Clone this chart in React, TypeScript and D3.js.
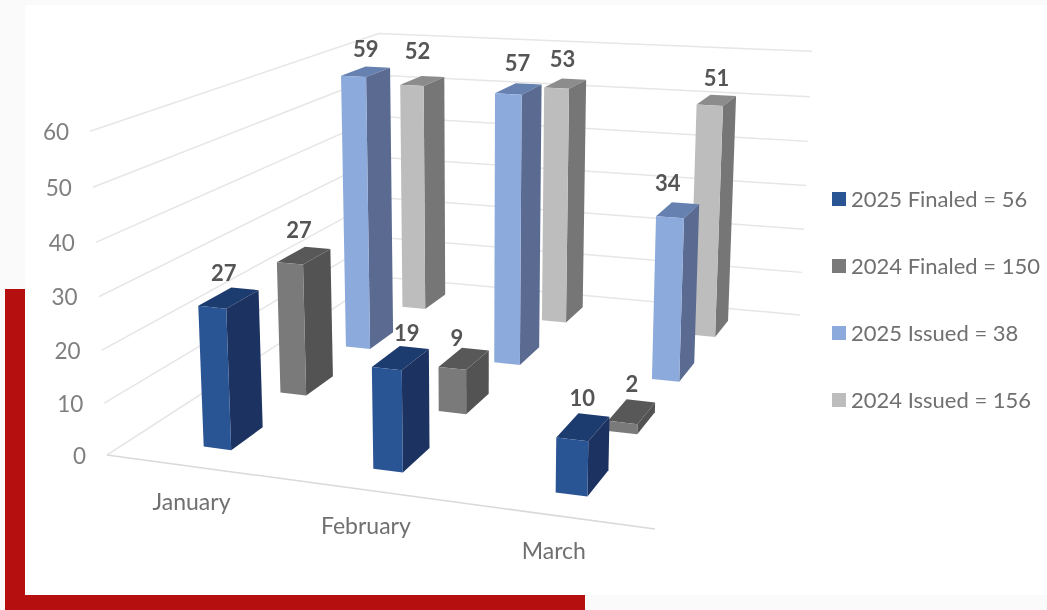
import React from "react";
import * as d3 from "d3";

const categories = ["January", "February", "March"];
const seriesNames = ["2025 Finaled", "2024 Finaled", "2025 Issued", "2024 Issued"];
const finaled2025 = [27, 19, 10];
const finaled2024 = [27, 9, 2];
const issued2025 = [59, 57, 34];
const issued2024 = [52, 53, 51];
const seriesValues = [finaled2025, finaled2024, issued2025, issued2024];
const legendLabels = ["2025 Finaled = 56", "2024 Finaled = 150", "2025 Issued = 38", "2024 Issued = 156"];
const valueTicks = [0, 10, 20, 30, 40, 50, 60];
const frontColors = ["#2B5494", "#7A7A7A", "#8CAADC", "#BDBDBD"];
const sideColors = ["#1C3260", "#525252", "#5A6B90", "#767676"];
const topColors = ["#1F3A6E", "#595959", "#6680B0", "#8C8C8C"];

const W = 1047, H = 610;
const FONT = "Lato, 'Open Sans', sans-serif";

// Perspective camera: floor quad corners and vertical vanishing point
const [x0, y0] = [107, 455], [x1, y1] = [655, 529], [x2, y2] = [800, 315], [x3, y3] = [382, 277];
const dx1 = x1 - x2, dx2 = x3 - x2, sx = x0 - x1 + x2 - x3;
const dy1 = y1 - y2, dy2 = y3 - y2, sy = y0 - y1 + y2 - y3;
const den = dx1 * dy2 - dx2 * dy1;
const g = (sx * dy2 - dx2 * sy) / den, h = (dx1 * sy - sx * dy1) / den;
const a = x1 - x0 + g * x1, b = x3 - x0 + h * x3, d = y1 - y0 + g * y1, e = y3 - y0 + h * y3;
const r = -0.0443, p = 474 * r, q = 7440 * r;

const project = (u: number, v: number, w: number): [number, number] => {
  const k = g * u + h * v + 1 + r * w;
  return [(a * u + b * v + x0 + p * w) / k, (d * u + e * v + y0 + q * w) / k];
};

const uScale = d3.scaleBand<string>().domain(categories).range([0.005, 0.998]).paddingInner(0.833).paddingOuter(0.4165);
const vScale = d3.scaleBand<string>().domain(seriesNames).range([0, 1]).paddingInner(0.6).paddingOuter(0.3);
const wScale = d3.scaleLinear().domain([0, 60]).range([0, 1]);

const poly = d3.line<[number, number]>().x((c) => c[0]).y((c) => c[1]);
const closed = (pts: [number, number][]) => poly(pts) + "Z";

// Excel places 3-D data labels a little off each bar's centre
const labelNudge = [
  [[-5, 1], [6, 2], [-1, -3]],
  [[-5, 1], [-7, 6], [0, -1]],
  [[0, 4], [-1, 0], [-10, -1]],
  [[-5, -4], [-3, 2], [0, 4]],
];

export default function App() {
  const rows = d3.range(seriesNames.length).reverse();
  return (
    <svg width={W} height={H} viewBox={`0 0 ${W} ${H}`} style={{ position: "absolute", left: 0, top: 0, background: "#fafafa" }}>
      <defs>
        <filter id="soft" x="-5%" y="-5%" width="110%" height="110%">
          <feGaussianBlur stdDeviation="0.55" />
        </filter>
      </defs>
      <rect x={25} y={5} width={W - 25} height={590} fill="#ffffff" />
      <rect x={5} y={289} width={20} height={321} fill="#B5100F" />
      <rect x={5} y={595} width={580} height={15} fill="#B5100F" />
      <g filter="url(#soft)">
        {valueTicks.map((t) => {
          const w = wScale(t);
          const l = project(0, 0, w), c = project(0, 1, w), rr = project(1, 1, w);
          return (
            <g key={t}>
              <path d={poly([l, c, rr]) ?? ""} fill="none" stroke="#E6E6E6" strokeWidth={1.5} />
              <text x={l[0] - 21} y={l[1] + 3} textAnchor="end" dominantBaseline="middle" fontFamily={FONT} fontSize={22.5} fill="#7F7F7F">{t}</text>
            </g>
          );
        })}
        <path d={poly([project(0, 0, 0), project(1, 0, 0)]) ?? ""} fill="none" stroke="#D9D9D9" strokeWidth={1.5} />
        {categories.map((cat) => {
          const [x, y] = project((uScale(cat) ?? 0) + uScale.bandwidth() / 2, 0, 0);
          return <text key={cat} x={x - 0.5} y={y + 38} textAnchor="middle" dominantBaseline="middle" fontFamily={FONT} fontSize={23} fill="#6F6F6F">{cat}</text>;
        })}
        {rows.map((s) =>
          categories.map((cat, i) => {
            const u0 = uScale(cat) ?? 0, u1 = u0 + uScale.bandwidth();
            const v0 = vScale(seriesNames[s]) ?? 0, v1 = v0 + vScale.bandwidth();
            const w = wScale(seriesValues[s][i]);
            return (
              <g key={cat}>
                <path d={closed([project(u0, v0, w), project(u1, v0, w), project(u1, v1, w), project(u0, v1, w)])} fill={topColors[s]} />
                <path d={closed([project(u1, v0, 0), project(u1, v1, 0), project(u1, v1, w), project(u1, v0, w)])} fill={sideColors[s]} />
                <path d={closed([project(u0, v0, 0), project(u1, v0, 0), project(u1, v0, w), project(u0, v0, w)])} fill={frontColors[s]} />
              </g>
            );
          })
        )}
        {rows.map((s) =>
          categories.map((cat, i) => {
            const u = (uScale(cat) ?? 0) + uScale.bandwidth() / 2;
            const v = (vScale(seriesNames[s]) ?? 0) + vScale.bandwidth() / 2;
            const [x, y] = project(u, v, wScale(seriesValues[s][i]));
            const [nx, ny] = labelNudge[s][i];
            return <text key={cat} x={x + nx} y={y - 24 + ny} textAnchor="middle" dominantBaseline="middle" fontFamily={FONT} fontWeight={700} fontSize={22} fill="#555555">{seriesValues[s][i]}</text>;
          })
        )}
        {legendLabels.map((t, i) => {
          const ly = d3.scaleLinear().domain([0, 3]).range([199, 400])(i);
          return (
            <g key={t}>
              <rect x={832} y={ly - 7} width={14} height={14} fill={frontColors[i]} />
              <text x={851} y={ly + 2} dominantBaseline="middle" fontFamily={FONT} fontSize={22} fill="#6F6F6F">{t}</text>
            </g>
          );
        })}
      </g>
    </svg>
  );
}
